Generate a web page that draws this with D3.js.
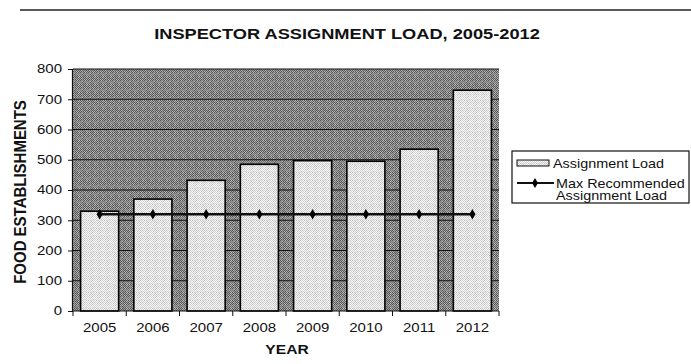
<!DOCTYPE html>
<html>
<head>
<meta charset="utf-8">
<script src="https://cdn.jsdelivr.net/npm/d3@7"></script>
<style>
  html, body { margin: 0; padding: 0; background: #fff; }
  svg { display: block; }
  text { font-family: Arial, "Liberation Sans", sans-serif; fill: #111; }
</style>
</head>
<body>
<svg id="chart" width="691" height="364"></svg>
<script>
// Inspector assignment load by year
const years = ["2005", "2006", "2007", "2008", "2009", "2010", "2011", "2012"];
const assignmentLoad = [330, 370, 432, 485, 497, 495, 535, 730];
const maxRecommended = [320, 320, 320, 320, 320, 320, 320, 320];
const yTicks = [0, 100, 200, 300, 400, 500, 600, 700, 800];
const seriesNames = ["Assignment Load", "Max Recommended", "Assignment Load"];

const svg = d3.select("#chart");
const W = 691, H = 364;
const plot = { left: 73, right: 499, top: 69, bottom: 311 };
const SX = 1.22;      // type is set slightly wide
const FONT = 12.3;

// Grainy halftone fills for the plot area and the bars
const defs = svg.append("defs");
function grainPattern(id, colors, seed) {
  const size = 8;
  const p = defs.append("pattern")
    .attr("id", id).attr("patternUnits", "userSpaceOnUse")
    .attr("width", size).attr("height", size);
  let s = seed;
  const rnd = () => { s = (s * 9301 + 49297) % 233280; return s / 233280; };
  for (let yy = 0; yy < size; yy++) {
    for (let xx = 0; xx < size; xx++) {
      const c = colors[((xx + yy) % 2 === 0 ? 0 : 1) + (rnd() < 0.3 ? 2 : 0)];
      p.append("rect").attr("x", xx).attr("y", yy).attr("width", 1).attr("height", 1).attr("fill", c);
    }
  }
}
grainPattern("bgGrain", ["#555555", "#a0a0a0", "#747474", "#bdbdbd"], 17);
grainPattern("barGrain", ["#d2d2d2", "#f4f4f4", "#bdbdbd", "#ffffff"], 29);

// Wide text helper: anchor point (cx, cy), horizontally stretched
function wideText(parent, cx, cy, str, opts = {}) {
  return parent.append("text")
    .attr("transform", `translate(${cx},${cy}) scale(${opts.sx || SX},1)`)
    .attr("text-anchor", opts.anchor || "start")
    .attr("font-size", opts.size || FONT)
    .attr("font-weight", opts.weight || "normal")
    .text(str);
}

// Scan rule at the top of the page
svg.append("line")
  .attr("x1", 20).attr("x2", W).attr("y1", 10).attr("y2", 10)
  .attr("stroke", "#222").attr("stroke-width", 1.5);

// Title
wideText(svg, 347, 39, "INSPECTOR ASSIGNMENT LOAD, 2005-2012",
  { anchor: "middle", size: 15.2, weight: "bold", sx: 1.2 });

const x = d3.scaleBand()
  .domain(years)
  .range([plot.left, plot.right])
  .paddingInner(0.285).paddingOuter(0.1425);

const y = d3.scaleLinear()
  .domain([0, 800])
  .range([plot.bottom, plot.top]);

// Plot area background
svg.append("rect")
  .attr("x", plot.left).attr("y", plot.top)
  .attr("width", plot.right - plot.left).attr("height", plot.bottom - plot.top)
  .attr("fill", "url(#bgGrain)");

// Horizontal gridlines
svg.append("g").selectAll("line")
  .data(yTicks.filter(d => d > 0))
  .join("line")
  .attr("x1", plot.left).attr("x2", plot.right)
  .attr("y1", d => y(d)).attr("y2", d => y(d))
  .attr("stroke", "#111").attr("stroke-width", 1);

// Bars
svg.append("g").selectAll("rect")
  .data(years.map((yr, i) => ({ yr, v: assignmentLoad[i] })))
  .join("rect")
  .attr("x", d => x(d.yr))
  .attr("y", d => y(d.v))
  .attr("width", x.bandwidth())
  .attr("height", d => y(0) - y(d.v))
  .attr("fill", "url(#barGrain)")
  .attr("stroke", "#000").attr("stroke-width", 1.6);

// Y axis
const yAxis = svg.append("g")
  .attr("transform", `translate(${plot.left - 1},0)`)
  .call(d3.axisLeft(y).tickValues(yTicks).tickSize(4).tickPadding(6));
yAxis.select(".domain").attr("stroke", "#111").attr("stroke-width", 1.2);
yAxis.selectAll(".tick line").attr("stroke", "#111");
yAxis.selectAll(".tick text")
  .attr("x", -10 / SX)
  .attr("transform", `scale(${SX},1)`)
  .attr("font-size", FONT).attr("fill", "#111")
  .attr("font-family", "Arial, 'Liberation Sans', sans-serif");

// X axis: ticks sit between the categories
const xAxisG = svg.append("g").attr("transform", `translate(0,${plot.bottom})`);
xAxisG.append("line")
  .attr("x1", plot.left - 1).attr("x2", plot.right)
  .attr("stroke", "#111").attr("stroke-width", 1.2);
const step = x.step();
xAxisG.selectAll("line.tk")
  .data(d3.range(years.length + 1))
  .join("line").attr("class", "tk")
  .attr("x1", i => plot.left + i * step).attr("x2", i => plot.left + i * step)
  .attr("y1", 0).attr("y2", 5)
  .attr("stroke", "#111");
years.forEach(yr => wideText(xAxisG, x(yr) + x.bandwidth() / 2, 21, yr, { anchor: "middle" }));

// Max recommended line with diamond markers
const linePts = years.map((yr, i) => ({ yr, v: maxRecommended[i] }));
svg.append("path")
  .datum(linePts)
  .attr("fill", "none")
  .attr("stroke", "#111").attr("stroke-width", 2.6)
  .attr("d", d3.line().x(d => x(d.yr) + x.bandwidth() / 2).y(d => y(d.v)));
svg.append("g").selectAll("path")
  .data(linePts)
  .join("path")
  .attr("transform", d => `translate(${x(d.yr) + x.bandwidth() / 2},${y(d.v)})`)
  .attr("d", d3.symbol(d3.symbolDiamond, 32))
  .attr("fill", "#000");

// Axis titles
svg.append("text")
  .attr("transform", `translate(26,${(plot.top + plot.bottom) / 2 + 2}) scale(1.05,1) rotate(-90)`)
  .attr("text-anchor", "middle")
  .attr("font-size", 15).attr("font-weight", "bold")
  .text("FOOD ESTABLISHMENTS");
wideText(svg, 287, 354, "YEAR", { anchor: "middle", weight: "bold", size: 12.5, sx: 1.25 });

// Legend
const lg = svg.append("g").attr("transform", "translate(512,151)");
lg.append("rect")
  .attr("x", 0).attr("y", 0).attr("width", 177).attr("height", 52)
  .attr("fill", "#fff").attr("stroke", "#111").attr("stroke-width", 1.2);
lg.append("rect")
  .attr("x", 5).attr("y", 9).attr("width", 32).attr("height", 6)
  .attr("fill", "url(#barGrain)").attr("stroke", "#111").attr("stroke-width", 1);
wideText(lg, 41, 17, seriesNames[0], { sx: 1.17 });
lg.append("line")
  .attr("x1", 5).attr("x2", 42).attr("y1", 32).attr("y2", 32)
  .attr("stroke", "#111").attr("stroke-width", 2.2);
lg.append("path")
  .attr("transform", "translate(23,32)")
  .attr("d", d3.symbol(d3.symbolDiamond, 30))
  .attr("fill", "#000");
wideText(lg, 44, 36.5, seriesNames[1], { sx: 1.17 });
wideText(lg, 44, 49, seriesNames[2], { sx: 1.17 });
</script>
</body>
</html>
